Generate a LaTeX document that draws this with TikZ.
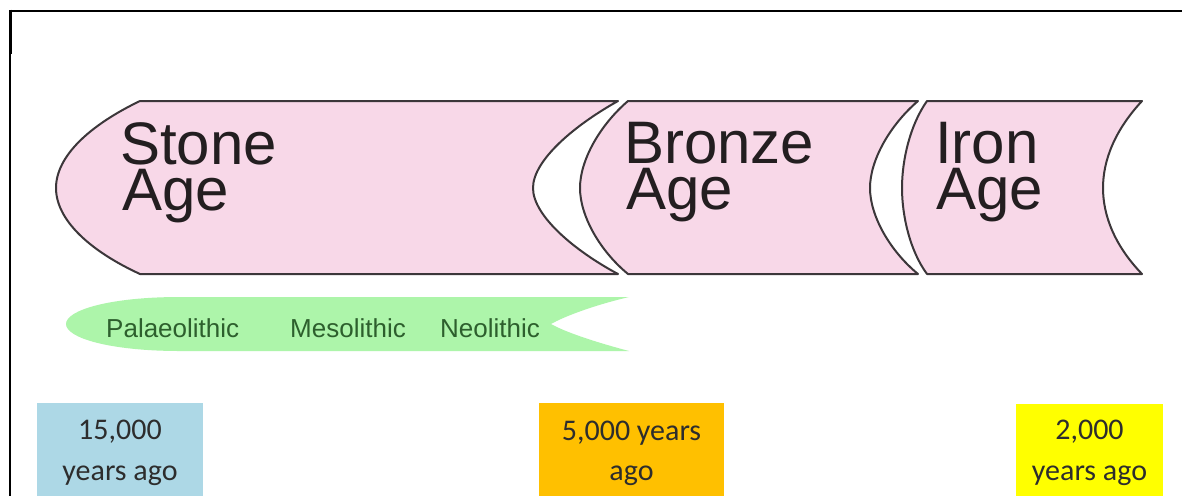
\documentclass[tikz,border=0pt]{standalone}
\usepackage{fontspec}
\setmainfont{Liberation Sans}
\newfontfamily\datefont{Carlito}
\definecolor{agepink}{RGB}{248,216,232}
\definecolor{ageedge}{RGB}{60,55,58}
\definecolor{agetext}{RGB}{35,30,32}
\definecolor{periodgreen}{RGB}{173,245,170}
\definecolor{periodtext}{RGB}{45,95,45}
\definecolor{boxblue}{RGB}{173,216,230}
\definecolor{boxorange}{RGB}{255,192,0}
\definecolor{boxyellow}{RGB}{255,255,0}
\definecolor{datetext}{RGB}{45,45,45}
\tikzset{
  agebox/.style={fill=agepink, draw=ageedge, line width=2pt, line join=round},
  agelabel/.style={inner sep=0pt, anchor=base west, text=agetext, font=\fontsize{60}{60}\selectfont},
  periodlabel/.style={inner sep=0pt, anchor=base west, text=periodtext, font=\fontsize{26}{26}\selectfont},
  datebox/.style={anchor=north west, inner sep=0pt, draw=none},
  datelabel/.style={inner sep=0pt, anchor=base, text=datetext, font=\datefont\fontsize{30}{30}\selectfont},
  framestroke/.style={draw=black, line cap=butt}
}
\begin{document}
\begin{tikzpicture}[x=1pt, y=-1pt]
\useasboundingbox (0,0) rectangle (1182,496);
\fill[white] (0,0) rectangle (1182,496);
% frame
\draw[framestroke, line width=2.7pt] (9.2,11) -- (1182,11);
\draw[framestroke, line width=3pt] (10.7,9.7) -- (10.7,54);
\draw[framestroke, line width=1.7pt] (10.2,54) -- (10.2,496);
% Stone Age
\draw[agebox] (140,101) -- (618,101)
  .. controls (575,125) and (533,160) .. (533,188)
  .. controls (533,216) and (575,251) .. (618,274)
  -- (140,274)
  .. controls (90,251) and (56,220) .. (56,188)
  .. controls (56,156) and (90,125) .. (140,101) -- cycle;
% Bronze Age
\draw[agebox] (628,101) -- (918,101)
  .. controls (890,125) and (870,160) .. (870,188)
  .. controls (870,216) and (890,251) .. (918,274)
  -- (628,274)
  .. controls (600,251) and (580,216) .. (580,188)
  .. controls (580,160) and (600,125) .. (628,101) -- cycle;
% Iron Age
\draw[agebox] (927,101) -- (1142,101)
  .. controls (1115,130) and (1103,160) .. (1103,188)
  .. controls (1103,216) and (1115,246) .. (1142,274)
  -- (927,274)
  .. controls (910,251) and (902,216) .. (902,188)
  .. controls (902,160) and (910,125) .. (927,101) -- cycle;
\node[agelabel] (stoneA) at (120,164) {Stone};
\node[agelabel] (stoneB) at (122,210) {Age};
\node[agelabel] (bronzeA) at (624,163) {Bronze};
\node[agelabel] (bronzeB) at (626,209) {Age};
\node[agelabel] (ironA) at (935,163) {Iron};
\node[agelabel] (ironB) at (936,209) {Age};
% periods band
\fill[periodgreen] (629,297) -- (180,297)
  .. controls (110,297) and (66,310) .. (66,324)
  .. controls (66,338) and (110,351) .. (180,351)
  -- (629,351)
  .. controls (595,342) and (565,332) .. (551,324)
  .. controls (565,316) and (595,305) .. (629,297) -- cycle;
\node[periodlabel] (palaeo) at (106,337) {Palaeolithic};
\node[periodlabel] (meso) at (290,337) {Mesolithic};
\node[periodlabel] (neo) at (440,337) {Neolithic};
% date boxes
\node[datebox, fill=boxblue, minimum width=166pt, minimum height=93pt] (box15) at (37,403) {};
\node[datebox, fill=boxorange, minimum width=185pt, minimum height=93pt] (box5) at (539,403) {};
\node[datebox, fill=boxyellow, minimum width=147pt, minimum height=92pt] (box2) at (1016,404) {};
\node[datelabel] (d15a) at (120,439) {15,000};
\node[datelabel] (d15b) at (120,480) {years ago};
\node[datelabel] (d5a) at (631.5,440) {5,000 years};
\node[datelabel] (d5b) at (631.5,480) {ago};
\node[datelabel] (d2a) at (1089.5,439) {2,000};
\node[datelabel] (d2b) at (1089.5,480) {years ago};
\end{tikzpicture}
\end{document}
